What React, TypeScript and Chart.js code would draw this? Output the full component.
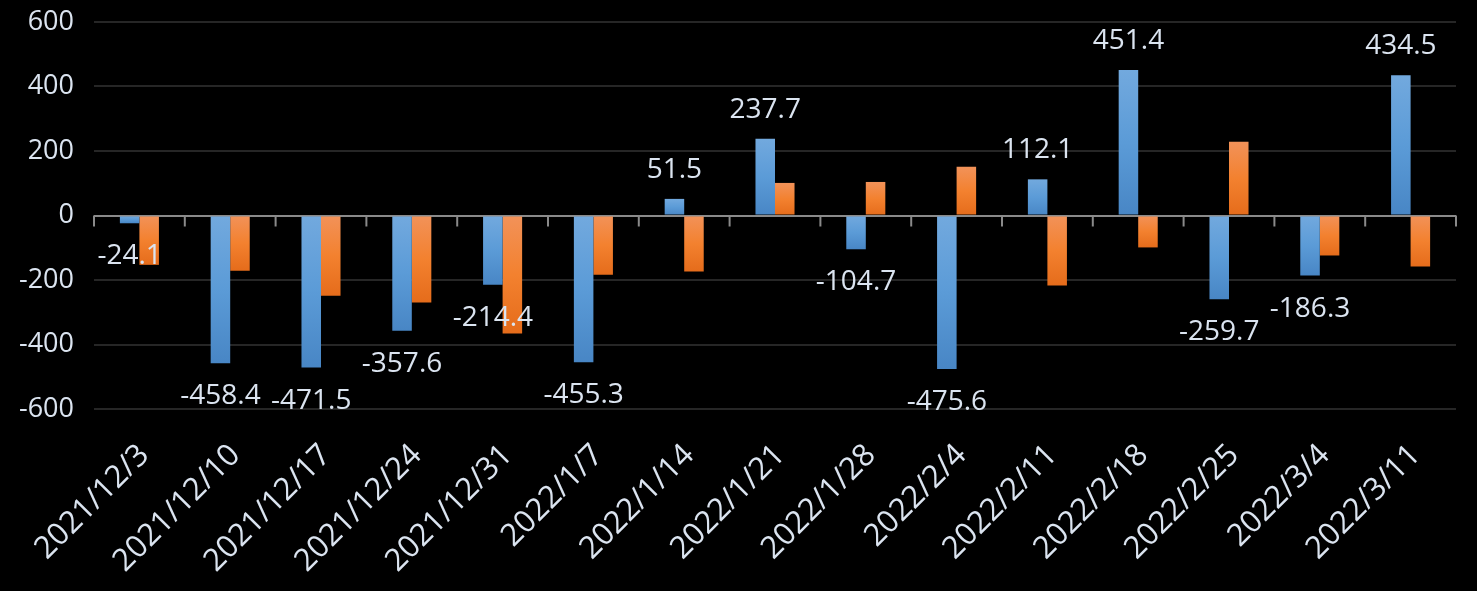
import React, { useEffect, useRef } from "react";
import { Chart, registerables } from "chart.js";

Chart.register(...registerables);

const categories = [
  "2021/12/3", "2021/12/10", "2021/12/17", "2021/12/24", "2021/12/31",
  "2022/1/7", "2022/1/14", "2022/1/21", "2022/1/28", "2022/2/4",
  "2022/2/11", "2022/2/18", "2022/2/25", "2022/3/4", "2022/3/11",
];
const blueValues = [-24.1, -458.4, -471.5, -357.6, -214.4, -455.3, 51.5, 237.7, -104.7, -475.6, 112.1, 451.4, -259.7, -186.3, 434.5];
const orangeValues = [-153, -171, -249, -270, -366, -184, -174, 101, 104, 151, -217, -99, 229, -124, -158];
const yTicks = [-600, -400, -200, 0, 200, 400, 600];

const FONT = "'Open Sans', 'Noto Sans', sans-serif";
const TEXT = "#dbe4f0";

function gradientFor(colors: [string, string, string]) {
  return (ctx: any) => {
    const chart = ctx.chart;
    const y = chart.scales?.y;
    if (!y || ctx.dataIndex === undefined || ctx.type !== "data") return colors[1];
    const v = ctx.raw as number;
    const top = y.getPixelForValue(Math.max(v, 0));
    const bot = y.getPixelForValue(Math.min(v, 0));
    if (!isFinite(top) || !isFinite(bot) || top === bot) return colors[1];
    const g = chart.ctx.createLinearGradient(0, top, 0, bot);
    g.addColorStop(0, colors[0]);
    g.addColorStop(0.5, colors[1]);
    g.addColorStop(1, colors[2]);
    return g;
  };
}

const zeroTicksPlugin = {
  id: "zeroTicks",
  afterDatasetsDraw(chart: any) {
    const x = chart.scales.x;
    const y = chart.scales.y;
    const ctx = chart.ctx;
    const y0 = y.getPixelForValue(0);
    const n = categories.length;
    const half = (x.getPixelForValue(1) - x.getPixelForValue(0)) / 2;
    ctx.save();
    ctx.strokeStyle = "#8a8a8a";
    ctx.lineWidth = 2;
    for (let i = 0; i <= n; i++) {
      const px = i < n ? x.getPixelForValue(i) - half : x.getPixelForValue(n - 1) + half;
      ctx.beginPath();
      ctx.moveTo(px, y0);
      ctx.lineTo(px, y0 + 11);
      ctx.stroke();
    }
    ctx.restore();
  },
};

const labelPlugin = {
  id: "valueLabels",
  afterDatasetsDraw(chart: any) {
    const meta = chart.getDatasetMeta(0);
    const ctx = chart.ctx;
    ctx.save();
    ctx.font = `28px ${FONT}`;
    ctx.fillStyle = TEXT;
    ctx.textAlign = "center";
    ctx.textBaseline = "alphabetic";
    meta.data.forEach((el: any, i: number) => {
      const v = blueValues[i];
      const yy = v >= 0 ? el.y - 21 : el.y + 41;
      ctx.fillText(v.toFixed(1), el.x, yy);
    });
    ctx.restore();
  },
};

export default function App() {
  const ref = useRef<HTMLCanvasElement>(null);
  useEffect(() => {
    document.body.style.margin = "0";
    document.body.style.background = "#000";
    const chart = new Chart(ref.current!, {
      type: "bar",
      data: {
        labels: categories,
        datasets: [
          {
            data: blueValues,
            backgroundColor: gradientFor(["#72a9de", "#5b9bd7", "#4886c5"]),
            categoryPercentage: 0.43,
            barPercentage: 1,
            borderWidth: 0,
          },
          {
            data: orangeValues,
            backgroundColor: gradientFor(["#f29259", "#f3812f", "#e56c1b"]),
            categoryPercentage: 0.43,
            barPercentage: 1,
            borderWidth: 0,
          },
        ],
      },
      options: {
        responsive: false,
        animation: false,
        layout: { padding: { left: 0, top: 22, right: 21, bottom: 0 } },
        plugins: { legend: { display: false }, tooltip: { enabled: false } },
        scales: {
          x: {
            grid: { display: false },
            border: { display: false },
            ticks: {
              autoSkip: false,
              maxRotation: 45,
              minRotation: 45,
              color: TEXT,
              font: { family: FONT, size: 31 },
              padding: 20,
              labelOffset: 5,
            },
            afterFit: (s: any) => {
              s.height = 182;
            },
          },
          y: {
            min: -600,
            max: 600,
            afterBuildTicks: (s: any) => {
              s.ticks = yTicks.map((v) => ({ value: v }));
            },
            grid: {
              drawTicks: false,
              color: (c: any) => (c.tick && c.tick.value === 0 ? "#8a8a8a" : "#262626"),
              lineWidth: 2,
            },
            border: { display: false },
            ticks: {
              color: TEXT,
              font: { family: FONT, size: 27 },
              padding: 20,
            },
            afterFit: (s: any) => {
              s.width = 94;
              s.paddingTop = 0;
              s.paddingBottom = 0;
            },
          },
        },
      },
      plugins: [zeroTicksPlugin, labelPlugin],
    });
    return () => chart.destroy();
  }, []);
  return (
    <div style={{ position: "absolute", left: 0, top: 0, width: 1477, height: 591, background: "#000" }}>
      <canvas ref={ref} width={1477} height={591} style={{ display: "block" }} />
    </div>
  );
}
